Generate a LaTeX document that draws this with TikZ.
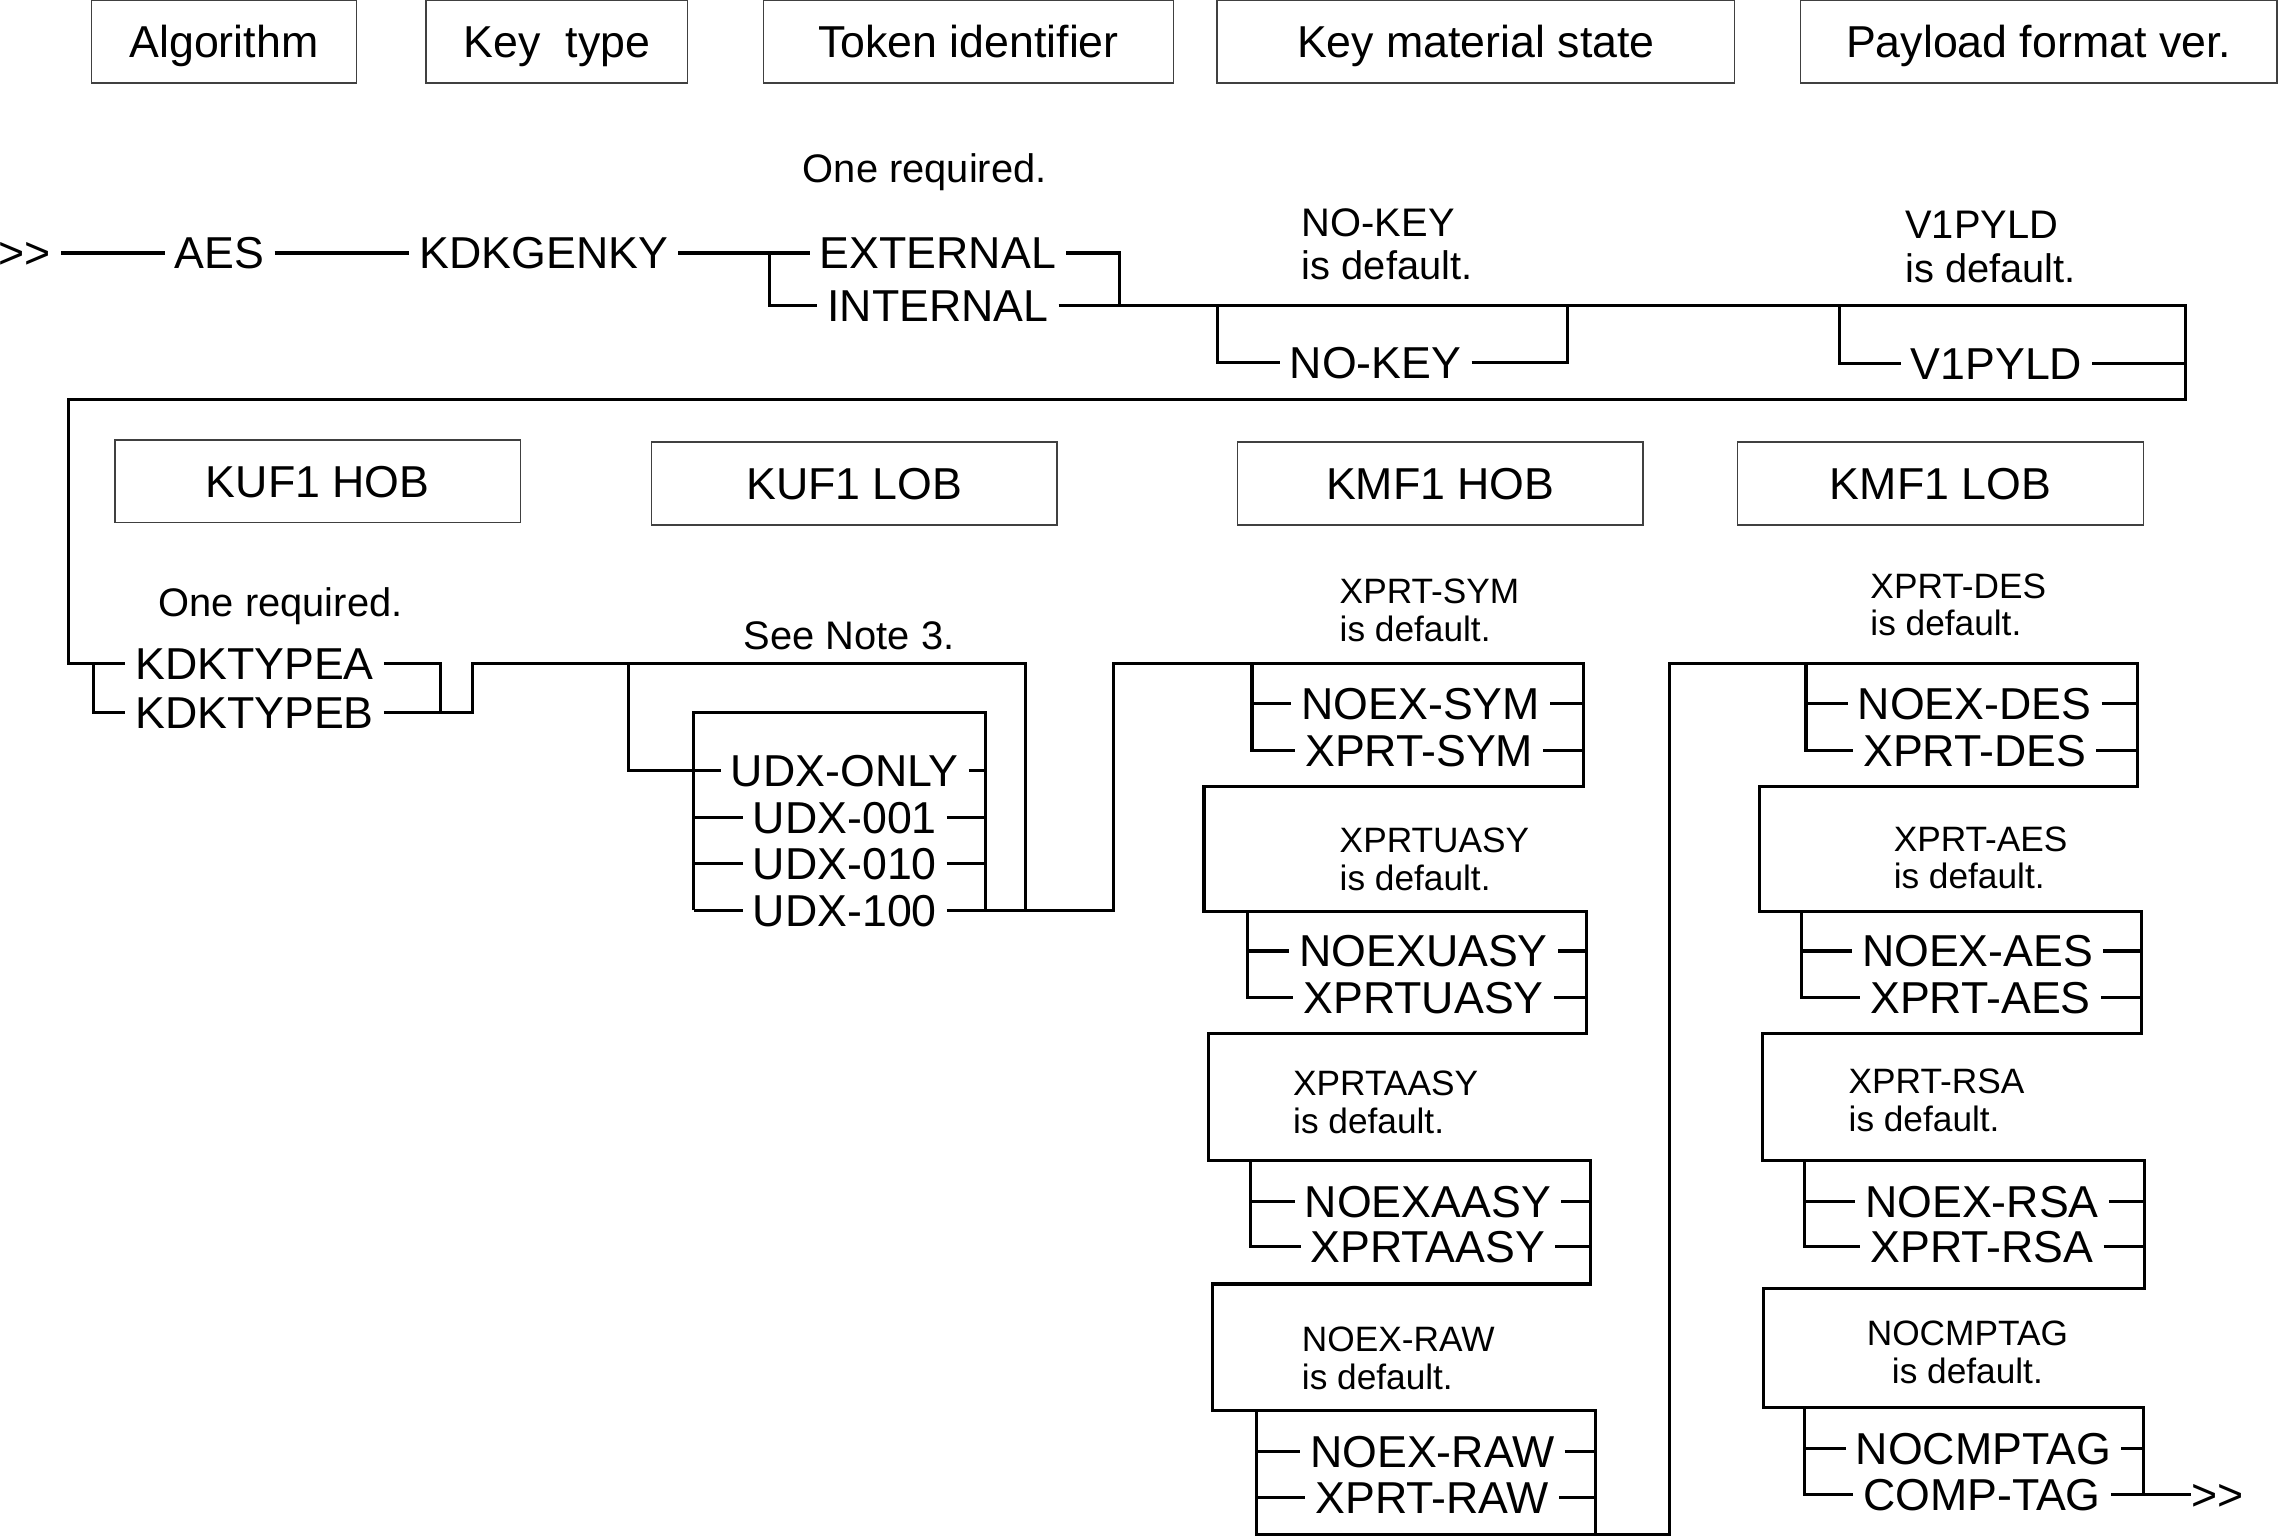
\documentclass[tikz,border=0pt]{standalone}
\usepackage{fontspec}
\setmainfont{Liberation Sans}
\usepackage{tikz}

\newcommand\fntbig{\fontsize{17.5}{21}\selectfont}
\newcommand\fntmid{\fontsize{15.6}{17.1}\selectfont}
\newcommand\fntsml{\fontsize{13.8}{14.8}\selectfont}

\tikzset{
  track/.style={line width=1.2pt},
  hdr/.style={draw=black!75, line width=0.5pt, inner sep=0pt, minimum height=1.14cm,
    font=\fntbig, text height=12.5pt, text depth=0pt},
  word/.style={font=\fntbig, inner sep=0pt, outer xsep=4pt, text height=12.5pt, text depth=0pt},
  note/.style={font=\fntmid, inner sep=0pt, text height=11.2pt, text depth=0pt},
  dflt/.style={font=\fntsml, inner sep=0pt, align=left, anchor=north west},
}

\begin{document}
\begin{tikzpicture}[x=0.02cm, y=-0.02cm]
\useasboundingbox (0,0) rectangle (1568,1057.7);
% Header boxes, first row
\node[hdr, minimum width=3.64cm] (alg) at (154,28.5) {Algorithm};
\node[hdr, minimum width=3.60cm] (ktyp) at (383,28.5) {Key\ \ type};
\node[hdr, minimum width=5.64cm] (tokid) at (666,28.5) {Token identifier};
\node[hdr, minimum width=7.12cm] (kmstate) at (1015,28.5) {Key material state};
\node[hdr, minimum width=6.56cm] (pfver) at (1402,28.5) {Payload format ver.};
% First row of the syntax
\node[word] (start) at (17,174) {>{}>};
\node[word] (aes) at (151,174) {AES};
\node[word] (kdk) at (374,174) {KDKGENKY};
\node[note] (req1) at (636,116) {One required.};
\node[word] (ext) at (645,174) {EXTERNAL};
\node[word] (int) at (645,210) {INTERNAL};
\node[dflt, font=\fntmid] (nokeydef) at (895,143) {NO-KEY\\is default.};
\node[word] (nokey) at (946,249) {NO-KEY};
\node[dflt, font=\fntmid] (v1def) at (1310,145) {V1PYLD\\is default.};
\node[word] (v1) at (1373,250) {V1PYLD};
\draw[track] (start) -- (aes);
\draw[track] (aes) -- (kdk);
\draw[track] (kdk) -- (ext);
\draw[track] (529,174) |- (int);
\draw[track] (ext) -| (770,210);
\draw[track] (837,210) |- (nokey);
\draw[track] (nokey) -| (1078,210);
\draw[track] (1265,210) |- (v1);
\draw[track] (v1) -- (1503,250);
% Header boxes, second row
\node[hdr, minimum width=5.58cm] (kufhob) at (218.5,331) {KUF1 HOB};
\node[hdr, minimum width=5.58cm] (kuflob) at (587.5,332.5) {KUF1 LOB};
\node[hdr, minimum width=5.58cm] (kmfhob) at (990.5,332.5) {KMF1 HOB};
\node[hdr, minimum width=5.58cm] (kmflob) at (1334.5,332.5) {KMF1 LOB};
% Key usage fields
\node[note] (req2) at (193,414) {One required.};
\node[word] (kta) at (175,456) {KDKTYPEA};
\node[word] (ktb) at (175,490) {KDKTYPEB};
\node[note] (note3) at (584,437) {See Note 3.};
\node[word] (uonly) at (581,530) {UDX-ONLY};
\node[word] (u001) at (581,562) {UDX-001};
\node[word] (u010) at (581,594) {UDX-010};
\node[word] (u100) at (581,626) {UDX-100};
\draw[track] (int) -- (1503,210) -- (1503,275) -- (47,275) -- (47,456) -- (kta);
\draw[track] (64,456) |- (ktb);
\draw[track] (kta) -| (303,490);
\draw[track] (ktb) -- (325,490) |- (705,456) -- (705,626);
\draw[track] (432,456) |- (uonly);
\draw[track] (477,626) |- (678,490) -- (678,626);
\draw[track] (477,562) -- (u001);
\draw[track] (477,594) -- (u010);
\draw[track] (477,626) -- (u100);
\draw[track] (uonly) -- (678,530);
\draw[track] (u001) -- (678,562);
\draw[track] (u010) -- (678,594);
% Key management fields, high order byte
\node[dflt] (symdef) at (921,398) {XPRT-SYM\\is default.};
\node[word] (nsym) at (977,484) {NOEX-SYM};
\node[word] (xsym) at (976,516) {XPRT-SYM};
\node[dflt] (uasydef) at (921,569) {XPRTUASY\\is default.};
\node[word] (nuasy) at (979,654) {NOEXUASY};
\node[word] (xuasy) at (979,686) {XPRTUASY};
\node[dflt] (aasydef) at (889,736) {XPRTAASY\\is default.};
\node[word] (naasy) at (982,826) {NOEXAASY};
\node[word] (xaasy) at (982,857) {XPRTAASY};
\node[dflt] (rawdef) at (895,912) {NOEX-RAW\\is default.};
\node[word] (nraw) at (985,998) {NOEX-RAW};
\node[word] (xraw) at (985,1030) {XPRT-RAW};
\draw[track] (u100) -- (766,626) -- (766,456) -- (1089,456) -- (1089,541) -- (828,541)
  -- (828,627) -- (1091,627) -- (1091,711) -- (831,711) -- (831,798) -- (1094,798)
  -- (1094,883) -- (834,883) -- (834,970) -- (1097,970) -- (1097,1055);
\draw[track] (861,456) |- (xsym);
\draw[track] (861,484) -- (nsym);
\draw[track] (nsym) -- (1089,484);
\draw[track] (xsym) -- (1089,516);
\draw[track] (858,627) |- (xuasy);
\draw[track] (858,654) -- (nuasy);
\draw[track] (nuasy) -- (1091,654);
\draw[track] (xuasy) -- (1091,686);
\draw[track] (860,798) |- (xaasy);
\draw[track] (860,826) -- (naasy);
\draw[track] (naasy) -- (1094,826);
\draw[track] (xaasy) -- (1094,857);
\draw[track] (864,998) -- (nraw);
\draw[track] (864,1030) -- (xraw);
\draw[track] (nraw) -- (1097,998);
\draw[track] (xraw) -- (1097,1030);
% Key management fields, low order byte
\node[dflt] (desdef) at (1286,394) {XPRT-DES\\is default.};
\node[word] (ndes) at (1358,484) {NOEX-DES};
\node[word] (xdes) at (1358,516) {XPRT-DES};
\node[dflt] (aesdef) at (1302,568) {XPRT-AES\\is default.};
\node[word] (naes) at (1360,654) {NOEX-AES};
\node[word] (xaes) at (1362,686) {XPRT-AES};
\node[dflt] (rsadef) at (1271,735) {XPRT-RSA\\is default.};
\node[word] (nrsa) at (1363,826) {NOEX-RSA};
\node[word] (xrsa) at (1363,857) {XPRT-RSA};
\node[dflt, align=center, anchor=north] (cmpdef) at (1353,908) {NOCMPTAG\\is default.};
\node[word] (ncmp) at (1364,996) {NOCMPTAG};
\node[word] (ctag) at (1363,1028) {COMP-TAG};
\node[word, outer xsep=0pt] (fin) at (1525,1028) {>{}>};
\draw[track] (864,970) |- (1148,1055) -- (1148,456) -- (1470,456) -- (1470,541) -- (1210,541)
  -- (1210,627) -- (1473,627) -- (1473,711) -- (1212,711) -- (1212,798) -- (1475,798)
  -- (1475,886) -- (1213,886) -- (1213,968) -- (1474,968) -- (1474,1028);
\draw[track] (1242,456) |- (xdes);
\draw[track] (1242,484) -- (ndes);
\draw[track] (ndes) -- (1470,484);
\draw[track] (xdes) -- (1470,516);
\draw[track] (1239,627) |- (xaes);
\draw[track] (1239,654) -- (naes);
\draw[track] (naes) -- (1473,654);
\draw[track] (xaes) -- (1473,686);
\draw[track] (1241,798) |- (xrsa);
\draw[track] (1241,826) -- (nrsa);
\draw[track] (nrsa) -- (1475,826);
\draw[track] (xrsa) -- (1475,857);
\draw[track] (1241,968) |- (ctag);
\draw[track] (1241,996) -- (ncmp);
\draw[track] (ncmp) -- (1474,996);
\draw[track] (ctag) -- (fin);
\end{tikzpicture}
\end{document}
